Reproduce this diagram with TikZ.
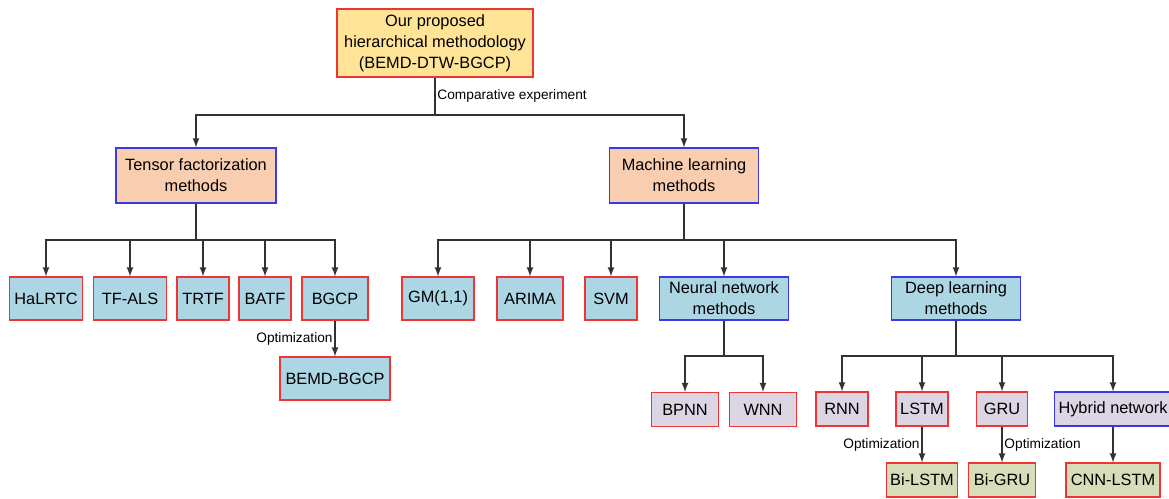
\documentclass[tikz,border=0pt]{standalone}
\usepackage{fontspec}
\setmainfont{Liberation Sans}
\usetikzlibrary{arrows}
\definecolor{gold}{RGB}{255,228,152}
\definecolor{peach}{RGB}{249,206,176}
\definecolor{skyblue}{RGB}{173,214,228}
\definecolor{lilac}{RGB}{219,213,228}
\definecolor{olive}{RGB}{215,221,185}
\definecolor{boxred}{RGB}{240,52,52}
\definecolor{boxblue}{RGB}{58,58,228}
\definecolor{linegray}{RGB}{50,50,50}

\begin{document}
\begin{tikzpicture}[x=0.02cm,y=-0.02cm,>=latex]
	\tikzstyle{box} = [draw,inner sep=0pt,align=center,line width=0.6pt,font=\fontsize{9.3}{12}\selectfont]
	\tikzstyle{redbox} = [box,draw=boxred]
	\tikzstyle{bluebox} = [box,draw=boxblue]
	\tikzstyle{mid} = [minimum height=0.86cm]
	\tikzstyle{low} = [minimum height=0.68cm]
	\tikzstyle{tip} = [->,line width=0.8pt,draw=linegray]
	\tikzstyle{wire} = [line width=0.8pt,draw=linegray]
	\tikzstyle{note} = [font=\fontsize{7.8}{9}\selectfont,inner sep=1pt]

	\useasboundingbox (0,0) rectangle (1169,498);
	\clip (0,0) rectangle (1169,498);

	\node[redbox,fill=gold,minimum width=3.92cm,minimum height=1.36cm] at (435,43) (top) {Our proposed\\hierarchical methodology\\(BEMD-DTW-BGCP)};

	\node[bluebox,fill=peach,minimum width=3.2cm,minimum height=1.1cm] at (196,175.5) (tf) {Tensor factorization\\methods};
	\node[bluebox,fill=peach,minimum width=2.98cm,minimum height=1.1cm] at (684,175.5) (ml) {Machine learning\\methods};

	\node[redbox,mid,fill=skyblue,minimum width=1.46cm] at (46,298.5) (halrtc) {HaLRTC};
	\node[redbox,mid,fill=skyblue,minimum width=1.46cm] at (130,298.5) (tfals) {TF-ALS};
	\node[redbox,mid,fill=skyblue,minimum width=1.04cm] at (203,298.5) (trtf) {TRTF};
	\node[redbox,mid,fill=skyblue,minimum width=1.04cm] at (265,298.5) (batf) {BATF};
	\node[redbox,mid,fill=skyblue,minimum width=1.32cm] at (335,298.5) (bgcp) {BGCP};
	\node[redbox,mid,fill=skyblue,minimum width=2.2cm] at (335,378.5) (bemd) {BEMD-BGCP};

	\node[redbox,mid,fill=skyblue,minimum width=1.44cm] at (438,298.5) (gm) {GM(1,1)};
	\node[redbox,mid,fill=skyblue,minimum width=1.32cm] at (530,298.5) (arima) {ARIMA};
	\node[redbox,mid,fill=skyblue,minimum width=1.04cm] at (611,298.5) (svm) {SVM};
	\node[bluebox,mid,fill=skyblue,minimum width=2.58cm] at (724,298.5) (nn) {Neural network\\methods};
	\node[bluebox,mid,fill=skyblue,minimum width=2.58cm] at (956,298.5) (dl) {Deep learning\\methods};

	\node[redbox,low,fill=lilac,minimum width=1.34cm] at (685,409.5) (bpnn) {BPNN};
	\node[redbox,low,fill=lilac,minimum width=1.34cm] at (763,409.5) (wnn) {WNN};
	\node[redbox,low,fill=lilac,minimum width=1.04cm] at (842,409) (rnn) {RNN};
	\node[redbox,low,fill=lilac,minimum width=1.04cm] at (922,409) (lstm) {LSTM};
	\node[redbox,low,fill=lilac,minimum width=1.02cm] at (1002,409) (gru) {GRU};
	\node[bluebox,low,fill=lilac,minimum width=2.36cm] at (1113,409) (hybrid) {Hybrid network};

	\node[redbox,low,fill=olive,minimum width=1.42cm] at (922,480) (bilstm) {Bi-LSTM};
	\node[redbox,low,fill=olive,minimum width=1.34cm] at (1002,480) (bigru) {Bi-GRU};
	\node[redbox,low,fill=olive,minimum width=1.88cm] at (1113,480) (cnnlstm) {CNN-LSTM};

	\coordinate (topbar) at (435,115);
	\coordinate (tfbar) at (196,240);
	\coordinate (mlbar) at (684,240);
	\coordinate (nnbar) at (724,356);
	\coordinate (dlbar) at (956,356);

	\draw[wire] (top) -- node[note,right] {Comparative experiment} (topbar);
	\draw[tip] (topbar) -| (tf);
	\draw[tip] (topbar) -| (ml);

	\draw[wire] (tf) -- (tfbar);
	\foreach \n in {halrtc,tfals,trtf,batf,bgcp}
		\draw[tip] (tfbar) -| (\n);
	\draw[tip] (bgcp) -- node[note,left] {Optimization} (bemd);

	\draw[wire] (ml) -- (mlbar);
	\foreach \n in {gm,arima,svm,nn,dl}
		\draw[tip] (mlbar) -| (\n);

	\draw[wire] (nn) -- (nnbar);
	\foreach \n in {bpnn,wnn}
		\draw[tip] (nnbar) -| (\n);

	\draw[wire] (dl) -- (dlbar);
	\foreach \n in {rnn,lstm,gru,hybrid}
		\draw[tip] (dlbar) -| (\n);

	\draw[tip] (lstm) -- node[note,left] {Optimization} (bilstm);
	\draw[tip] (gru) -- node[note,right] {Optimization} (bigru);
	\draw[tip] (hybrid) -- (cnnlstm);
\end{tikzpicture}
\end{document}
